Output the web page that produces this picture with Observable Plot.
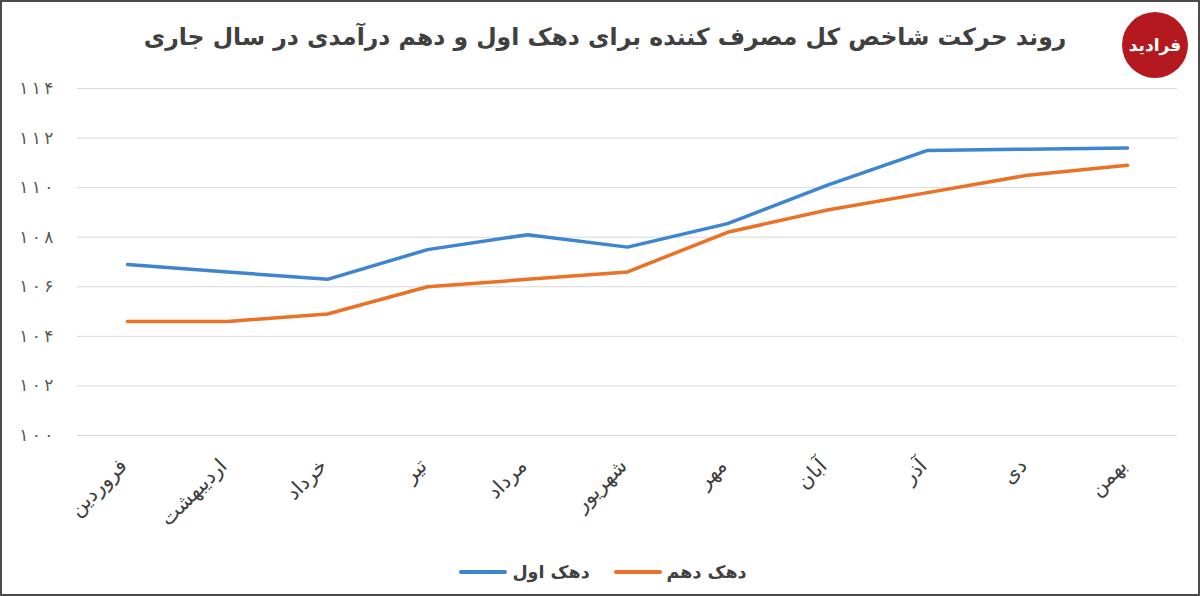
<!DOCTYPE html>
<html>
<head>
<meta charset="utf-8">
<script src="https://cdn.jsdelivr.net/npm/d3@7"></script>
<script src="https://cdn.jsdelivr.net/npm/@observablehq/plot@0.6"></script>
<style>
  html, body { margin: 0; padding: 0; background: #fff; }
  #wrap { position: relative; width: 1200px; height: 596px; overflow: hidden; background: #fff; font-family: "DejaVu Sans", sans-serif; }
  #title { height: 70px; box-sizing: border-box; padding-top: 23px; text-align: center; font-size: 23.5px; font-weight: bold; color: #404040; margin-left: 10px; }
  #legend { height: 56px; box-sizing: border-box; padding-top: 8px; display: flex; justify-content: center; align-items: center; font-size: 17.5px; font-weight: bold; color: #404040; margin-left: 6px; }
  .item { display: flex; align-items: center; margin: 0 12px; }
  .sw { width: 48px; height: 4px; border-radius: 2px; margin-right: 5px; }
  #border { position: absolute; left: 0; top: 0; width: 1200px; height: 596px; box-sizing: border-box; border: 2px solid #4a4a4a; pointer-events: none; }
  #logo { position: absolute; left: 1122px; top: 12px; width: 66px; height: 66px; border-radius: 50%; background: #b3191e; color: #fff; display: flex; align-items: center; justify-content: center; font-size: 17px; font-weight: bold; }
</style>
</head>
<body>
<div id="wrap">
  <div id="title"></div>
  <div id="chart"></div>
  <div id="legend"></div>
  <div id="logo">فرادید</div>
  <div id="border"></div>
</div>
<script>
const titleText = "روند حرکت شاخص کل مصرف کننده برای دهک اول و دهم درآمدی در سال جاری";
const months = ["فروردین","اردیبهشت","خرداد","تیر","مرداد","شهریور","مهر","آبان","آذر","دی","بهمن"];
const decileFirst = [106.9,106.6,106.3,107.5,108.1,107.6,108.55,110.1,111.5,111.55,111.6];
const decileTenth = [104.6,104.6,104.9,106.0,106.3,106.6,108.2,109.1,109.8,110.5,110.9];
const seriesNames = ["دهک اول","دهک دهم"];
const seriesColors = ["#3d85d1","#ea7125"];
const yTicks = [100,102,104,106,108,110,112,114];

const fa = v => String(v).split("").map(d => "۰۱۲۳۴۵۶۷۸۹"[d]).join("\u2009");

document.getElementById("title").textContent = titleText;

const rows1 = months.map((m, i) => ({month: m, value: decileFirst[i]}));
const rows10 = months.map((m, i) => ({month: m, value: decileTenth[i]}));

const chart = Plot.plot({
  width: 1200,
  height: 470,
  marginLeft: 77,
  marginRight: 23,
  marginTop: 18,
  marginBottom: 105,
  style: {fontFamily: "DejaVu Sans, sans-serif", background: "transparent"},
  x: {type: "point", domain: months, padding: 0.5},
  y: {domain: [100, 114]},
  marks: [
    Plot.gridY(yTicks, {stroke: "#d9d9d9", strokeOpacity: 1, strokeWidth: 1}),
    Plot.axisY(yTicks, {tickSize: 0, tickPadding: 24, tickFormat: fa, fontSize: 17, fill: "#595959", label: null}),
    Plot.axisX({tickSize: 0, tickRotate: -45, tickPadding: 27, fontSize: 20.5, fill: "#404040", label: null, dx: -4}),
    Plot.line(rows1, {x: "month", y: "value", stroke: seriesColors[0], strokeWidth: 3.5}),
    Plot.line(rows10, {x: "month", y: "value", stroke: seriesColors[1], strokeWidth: 3.5})
  ]
});
document.getElementById("chart").appendChild(chart);

const legend = document.getElementById("legend");
seriesNames.forEach((name, i) => {
  const item = document.createElement("div");
  item.className = "item";
  const sw = document.createElement("div");
  sw.className = "sw";
  sw.style.background = seriesColors[i];
  const label = document.createElement("span");
  label.textContent = name;
  item.appendChild(sw);
  item.appendChild(label);
  legend.appendChild(item);
});
</script>
</body>
</html>
